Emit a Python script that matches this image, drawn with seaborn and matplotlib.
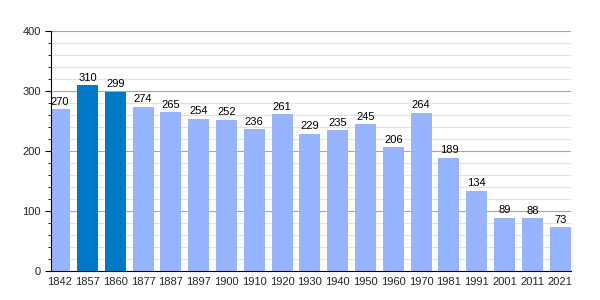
import matplotlib
matplotlib.use("Agg")
import matplotlib.pyplot as plt
import seaborn as sns
import pandas as pd
from matplotlib.ticker import MultipleLocator

years = ["1842", "1857", "1860", "1877", "1887", "1897", "1900", "1910", "1920", "1930",
         "1940", "1950", "1960", "1970", "1981", "1991", "2001", "2011", "2021"]
population = [270, 310, 299, 274, 265, 254, 252, 236, 261, 229,
              235, 245, 206, 264, 189, 134, 89, 88, 73]
highlight = ["1857", "1860"]

df = pd.DataFrame({"year": years, "pop": population})
df["kind"] = ["hi" if y in highlight else "lo" for y in years]

sns.set_style("white")
plt.rcParams['font.family'] = ['Liberation Sans', 'DejaVu Sans']

fig = plt.figure(figsize=(6, 3), dpi=100)
ax = fig.add_axes([50.5/600, 29/300, 520.5/600, 240/300])

sns.barplot(data=df, x="year", y="pop", hue="kind",
            palette={"hi": "#0079c9", "lo": "#99b4ff"},
            width=0.755, dodge=False, legend=False, ax=ax, saturation=1,
            linewidth=0, edgecolor="none")

for i, v in enumerate(population):
    ax.text(i, v + 4, str(v), ha="center", va="bottom", fontsize=8, color="black")

ax.set_ylim(0, 400)
ax.set_xlim(-0.33, len(years) - 0.61)
ax.yaxis.set_major_locator(MultipleLocator(100))
ax.yaxis.set_minor_locator(MultipleLocator(20))
ax.grid(axis="y", which="major", color="#a8a8a8", linewidth=0.8)
ax.grid(axis="y", which="minor", color="#e2e2e2", linewidth=0.8)
ax.set_axisbelow(True)
ax.set_xlabel("")
ax.set_ylabel("")
for s in ["top", "right"]:
    ax.spines[s].set_visible(False)
ax.spines["left"].set_color("black")
ax.spines["bottom"].set_color("black")
ax.tick_params(axis="y", which="major", left=True, length=4, labelsize=8, color="black", pad=3)
ax.tick_params(axis="y", which="minor", left=True, length=2, color="black")
ax.tick_params(axis="x", bottom=False, labelsize=8, pad=1)

fig.savefig("out.png", dpi=100)
